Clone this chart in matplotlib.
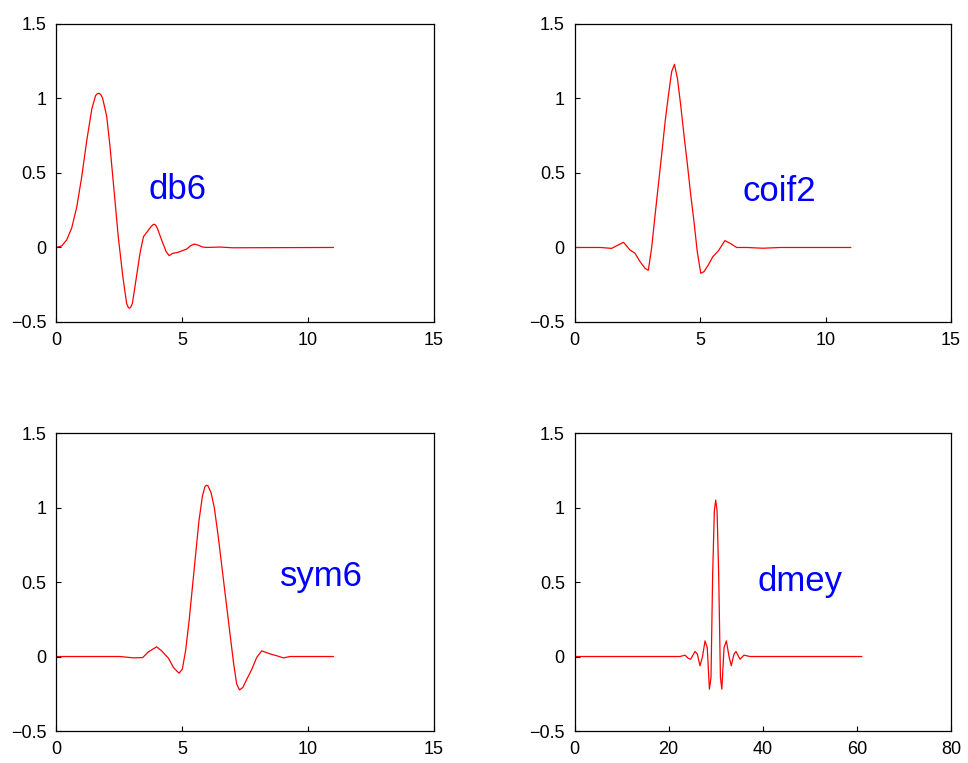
import matplotlib
matplotlib.use("Agg")
import matplotlib.pyplot as plt

plt.rcParams['font.family'] = ['Liberation Sans', 'DejaVu Sans']

# values
db6_x = [0, 0.22, 0.42, 0.62, 0.82, 1.02, 1.22, 1.42, 1.57, 1.64, 1.71, 1.78, 1.85, 2.01,
         2.14, 2.30, 2.47, 2.65, 2.80, 2.86, 2.91, 2.96, 3.03, 3.17, 3.33, 3.47, 3.62,
         3.77, 3.85, 3.90, 3.95, 4.02, 4.19, 4.37, 4.49, 4.63, 4.79, 4.99, 5.19, 5.34,
         5.48, 5.65, 5.82, 5.98, 6.5, 7.0, 11.0]
db6_y = [0, 0.01, 0.05, 0.13, 0.27, 0.475, 0.72, 0.93, 1.02, 1.032, 1.035, 1.025, 1.00,
         0.88, 0.68, 0.385, 0.07, -0.195, -0.375, -0.40, -0.408, -0.402, -0.375, -0.22,
         -0.04, 0.073, 0.106, 0.14, 0.153, 0.156, 0.15, 0.129, 0.05, -0.028, -0.055,
         -0.039, -0.035, -0.023, -0.01, 0.012, 0.023, 0.015, 0.003, 0.0, 0.003, -0.002,
         0.0]

coif2_x = [0, 0.62, 1.02, 1.48, 1.95, 2.21, 2.41, 2.61, 2.81, 2.94, 3.07, 3.21, 3.34, 3.47,
           3.61, 3.74, 3.87, 3.98, 4.10, 4.23, 4.36, 4.50, 4.63, 4.76, 4.89, 5.03, 5.16,
           5.33, 5.51, 5.73, 5.99, 6.2, 6.46, 6.86, 7.5, 8.2, 11.0]
coif2_y = [0, 0, 0, -0.006, 0.035, -0.017, -0.039, -0.095, -0.14, -0.153, -0.006, 0.218,
           0.42, 0.62, 0.845, 1.02, 1.18, 1.229, 1.135, 0.955, 0.755, 0.553, 0.352, 0.173,
           -0.028, -0.173, -0.162, -0.117, -0.062, -0.023, 0.046, 0.028, 0.0, 0.0, -0.005,
           0.0, 0.0]

sym6_x = [0, 1.75, 2.54, 3.07, 3.44, 3.66, 3.99, 4.19, 4.46, 4.66, 4.88, 5.01, 5.14, 5.28,
          5.41, 5.54, 5.67, 5.81, 5.91, 5.96, 6.02, 6.15, 6.28, 6.44, 6.60, 6.76, 6.92,
          7.05, 7.17, 7.28, 7.41, 7.57, 7.77, 7.96, 8.16, 8.34, 8.52, 8.76, 9.02, 9.29,
          11.0]
sym6_y = [0, 0, 0, -0.009, -0.007, 0.031, 0.065, 0.038, -0.011, -0.074, -0.112, -0.085,
          0.038, 0.24, 0.463, 0.687, 0.91, 1.078, 1.141, 1.148, 1.148, 1.10, 1.0, 0.80,
          0.575, 0.351, 0.128, -0.051, -0.186, -0.224, -0.208, -0.152, -0.085, -0.007,
          0.038, 0.027, 0.016, 0.005, -0.009, 0.0, 0.0]

dmey_x = [0, 20.3, 22.4, 23.48, 24.2, 24.68, 25.6, 26.1, 26.66, 27.2, 27.73, 28.2, 28.66,
          29.0, 29.35, 29.71, 30.0, 30.29, 30.63, 31.0, 31.3, 31.77, 32.26, 32.83, 33.3,
          33.88, 34.3, 35.16, 36.0, 37.3, 61.0]
dmey_y = [0, 0, 0, 0.009, -0.013, -0.018, 0.034, 0.016, -0.062, 0.0, 0.105, 0.06, -0.219,
          -0.14, 0.55, 0.978, 1.05, 0.978, 0.55, -0.14, -0.219, 0.06, 0.105, 0.0, -0.062,
          0.016, 0.034, -0.018, 0.009, 0.0, 0.0]

names = ['db6', 'coif2', 'sym6', 'dmey']
xmax = [15, 15, 15, 80]
xstep = [5, 5, 5, 20]
label_pos = [(3.65, 0.325), (6.7, 0.31), (8.9, 0.47), (38.8, 0.44)]

fig = plt.figure(figsize=(9.68, 7.63), dpi=100)
boxes = [[0.0579, 0.578, 0.3905, 0.3906], [0.5935, 0.578, 0.389, 0.3906],
         [0.0579, 0.0419, 0.3905, 0.3906], [0.5935, 0.0419, 0.389, 0.3906]]
data = [(db6_x, db6_y), (coif2_x, coif2_y), (sym6_x, sym6_y), (dmey_x, dmey_y)]

for i in range(4):
    ax = fig.add_axes(boxes[i])
    xs, ys = data[i]
    ax.plot(xs, ys, color='red', lw=0.9)
    ax.set_xlim(0, xmax[i])
    ax.set_ylim(-0.5, 1.5)
    ax.set_xticks(range(0, xmax[i] + 1, xstep[i]))
    ax.set_yticks([-0.5, 0, 0.5, 1, 1.5])
    ax.set_yticklabels(['\u22120.5', '0', '0.5', '1', '1.5'])
    ax.tick_params(direction='in', length=3.5, labelsize=13, pad=7, width=0.8)
    for s in ax.spines.values():
        s.set_linewidth(0.9)
    tx, ty = label_pos[i]
    ax.text(tx, ty, names[i], color='blue', fontsize=25, ha='left', va='baseline')

fig.savefig('out.png', dpi=100)
